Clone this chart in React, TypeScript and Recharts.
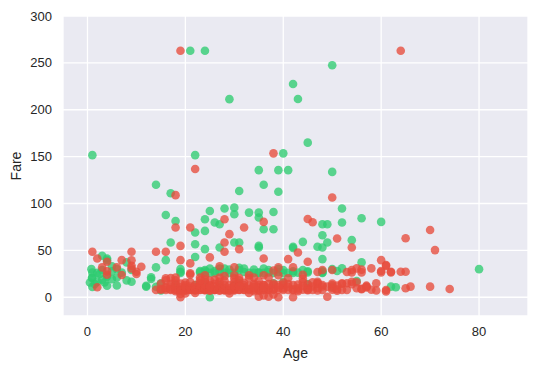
import React from "react";
import { ScatterChart, Scatter, XAxis, YAxis, CartesianGrid, Label } from "recharts";

// [Age, Fare] pairs — passengers who did not survive
const died: [number, number][] = [
  [19, 263], [64, 263], [38, 153.5], [22, 136.8], [18, 108.9], [50, 106.4], [45, 83.5], [46, 80],
  [18, 74.4], [21, 74.4], [28, 83.2], [32, 74.4], [29, 67.3], [36, 80.4], [51, 62.7], [65, 63],
  [70, 71.8], [71, 50.3], [31, 51.3], [28, 58.4], [28, 48.5], [19, 54.8], [25, 42.5], [16, 48.5],
  [14, 48.5], [1, 48.5], [9, 48.5], [43, 47.8], [41, 40.7], [54, 53.1], [45, 37.8], [60, 39.6],
  [61, 34.3], [19, 39.6], [21, 36.1], [36, 41.4], [2, 41.4], [4, 37.8], [7, 39.6], [9, 39.4],
  [9, 30.8], [11, 32.5], [7, 23.7], [10, 27.2], [2, 10.6], [3, 31.9], [4, 27.6], [6, 31.9],
  [9, 33.6], [10, 24.8], [4, 24], [50, 29], [54, 29], [55, 30.8], [56, 29.5], [58, 30.8],
  [60, 28], [62, 27.2], [64, 27.2], [65, 27.2], [53, 27], [47, 27], [56, 26.5],
  [54, 26.5], [43, 9.6], [45, 9.6], [47, 16.6], [47, 9.6], [49, 11.3], [50, 10.2], [52, 14.9],
  [54, 16.6], [55, 9.6], [57, 11.3], [59, 14.9], [61, 7.8], [65, 9.6], [66, 11.3], [70, 11.3],
  [74, 8.8], [49, 0.6], [51, 8.5], [52, 14.2], [48, 13], [46, 7.9], [44, 8.05], [42, 7.55],
  [42, 13], [41, 14.1], [43, 6.45], [45, 13.5], [46, 11.5], [47, 7.25], [48, 7.85], [50, 13],
  [51, 12.5], [58, 8], [61, 6.24], [53, 7.9], [56, 9],
  [14, 7.85], [15, 8.03], [15, 14.45], [16, 7.75], [16, 9.5], [16, 18], [16, 10.5], [17, 7.9],
  [17, 8.66], [17, 14.46], [18, 7.75], [18, 8.3], [18, 11.5], [18, 14.45], [18, 6.5], [19, 7.9],
  [19, 8.05], [19, 0], [19, 10.5], [19, 14.5], [19, 6.75], [20, 7.85], [20, 9.85], [20, 4.0],
  [20, 7.05], [20, 8.05], [20, 9.22], [20, 15.7], [17, 20.5], [18, 18], [16, 20.2], [15, 8.7],
  [18, 21], [20, 13], [17, 11.5], [19, 3.5], [20, 11.2],
  [21, 7.8], [21, 8.05], [21, 11.5], [21, 9.5], [21, 16.1], [21, 24.2], [22, 7.25], [22, 7.8],
  [22, 9], [22, 10.5], [22, 13], [22, 8.05], [23, 7.85], [23, 8.05], [23, 10.5], [23, 13],
  [23, 15], [24, 7.5], [24, 8.05], [24, 7.9], [24, 9.5], [24, 16.1], [24, 23.5], [24, 13],
  [25, 7.05], [25, 7.65], [25, 9.5], [25, 13], [25, 17.8], [26, 7.9], [26, 8.05],
  [26, 14.45], [26, 18.8], [26, 7.78], [27, 7.8], [27, 6.97], [27, 10.5], [27, 13], [27, 21],
  [28, 7.9], [28, 8.05], [28, 7.25], [28, 9.5], [28, 13], [28, 22.5],
  [29, 7.05], [29, 7.9], [29, 9.5], [29, 13], [30, 7.22], [30, 8.05], [30, 8.66],
  [30, 13], [30, 16.1], [30, 23.5], [30, 32], [23, 21],
  [21, 25.6], [24, 19.2], [30, 20.2], [22, 4.5], [26, 11.5], [29, 4],
  [23, 18], [27, 16.5], [25, 11.5], [28, 17.5], [30, 11],
  [31, 7.75], [31, 8.05], [31, 13], [31, 18], [31, 20.5], [32, 7.85], [32, 8.05], [32, 10.5],
  [32, 13], [32, 15.5], [33, 7.9], [33, 8.65], [33, 12.3], [33, 20.5], [34, 6.5],
  [34, 8.05], [34, 13], [34, 14.4], [34, 21], [35, 7.05], [35, 8.05], [35, 10.5],
  [35, 0.5], [35, 13], [35, 17], [36, 7.5], [36, 8.05], [36, 12.9], [36, 13],
  [36, 23.5], [36, 2], [37, 7.75], [37, 7.92], [37, 9.58],
  [37, 0.5], [38, 7.9], [38, 8.66], [38, 13], [38, 14.5], [39, 7.9], [39, 13], [39, 23.5],
  [39, 0], [39, 32], [40, 7.9], [40, 9.5], [40, 13.4],
  [40, 15.5], [33, 23.5], [37, 21.1], [42, 0],
  [41, 7.85], [41, 20.2], [42, 8.4], [43, 8.05], [43, 13.5], [44, 16.1], [44, 20],
  [45, 8.05], [45, 7.5], [47, 15], [47, 14.5], [48, 11.5], [48, 29],
  [50, 8.05], [50, 14.5], [51, 7.05], [52, 7.9], [53, 14.9], [54, 14], [55, 16],
  [56, 8.5], [57, 12.35], [57, 10.5], [59, 7.25], [60, 26.55], [61, 33.5], [62, 26.55],
  [42, 32], [46, 16], [33, 4.5], [36, 10.5], [39, 10.5], [41, 11], [44, 12], [38, 3],
  [31, 11.5], [34, 10.5], [37, 14], [27, 33], [38, 28.5], [44, 24],
];

// [Age, Fare] pairs — passengers who survived
const survived: [number, number][] = [
  [21, 263], [24, 263], [29, 211.3], [1, 151.6], [22, 151.6], [35, 135.6], [14, 120], [36, 120],
  [50, 247.5], [42, 227.5], [43, 211.5], [45, 164.9], [40, 153.5], [39, 135.6], [41, 135.6],
  [50, 133.7], [39, 112.6], [31, 113.3], [17, 110.9], [52, 94.6], [38, 91], [48, 77.9],
  [49, 77.9], [52, 79.7], [56, 84.3], [60, 80.4], [38, 72.6], [36, 72.6], [48, 66.2], [49, 58.4],
  [47, 53.8], [48, 53.1], [54, 60.9], [44, 59.1], [42, 53.8], [42, 52.5], [48, 40.7], [56, 37.2],
  [80, 30], [16, 87.8], [18, 81.4], [30, 95.6], [30, 88.5], [33, 90.3], [35, 90.3], [22, 69],
  [24, 70.8], [24, 83.2], [25, 92], [26, 79.7], [27, 77.9], [28, 94.6], [35, 85], [35, 54.8],
  [35, 53.1], [31, 58.4], [30, 58.4], [27, 53.1], [24, 51.3], [22, 56.6], [22, 43], [17, 58.4],
  [16, 39.6], [14, 31.9], [13, 21.3], [12, 12.3], [15, 14.9], [19, 30], [19, 27.2],
  [0.8, 30], [0.9, 20.6], [0.5, 15.75], [1, 21.1], [1, 11.1], [1.5, 14.2], [2, 16.7], [2, 26],
  [2.5, 24.8], [3, 44.2], [4, 41.4], [3, 18.75], [3.5, 15.9], [4, 12.3], [4, 39.6], [4, 22],
  [5, 19.3], [5, 33], [5, 27.75], [6, 21], [6, 12.5], [7, 26.25], [8, 37.2], [8, 18], [9, 16.6],
  [9, 29], [12, 11.2], [13, 19.5], [14, 11.2], [6, 30], [1, 26.25], [3, 29],
  [15, 7.2], [18, 13], [19, 26],
  [23, 28], [24, 26], [24, 27.7], [24, 29], [24, 15.85], [25, 26], [25, 0], [25, 10],
  [25, 30.5], [26, 26], [26, 28], [27, 30.5], [28, 26], [28, 30.7], [29, 26], [30, 26],
  [31, 15], [31, 29], [32, 30.5], [33, 26], [34, 26], [35, 26], [35, 26.3], [36, 26],
  [36, 30.5], [37, 29], [38, 14.9], [38, 26], [39, 30], [40, 16.6], [40, 26], [41, 26],
  [42, 27.7], [42, 26], [43, 26.3], [44, 29], [45, 27.7], [45, 10], [45, 14], [45, 26.5],
  [48, 27.7], [48, 26.5], [48, 25.9], [50, 11.3], [50, 30], [51, 28], [52, 30.8], [55, 17.3],
  [62, 11.3], [63, 10.6], [31, 31.3], [22, 13], [27, 12.5], [30, 13], [23, 26.5], [27, 27],
  [29, 29.5], [32, 27], [34, 29.5], [37, 26.5], [39, 27], [40, 29],
];

const ageTicks = [0, 20, 40, 60, 80];
const fareTicks = [0, 50, 100, 150, 200, 250, 300];

const diedData = died.map(([age, fare]) => ({ age, fare }));
const survivedData = survived.map(([age, fare]) => ({ age, fare }));

const FONT = "Arial, 'Liberation Sans', sans-serif";
const TEXT = "#262626";

const dot = (color: string) => (props: any) => (
  <circle cx={props.cx} cy={props.cy} r={4.3} fill={color} fillOpacity={0.78} />
);

export default function App() {
  return (
    <div style={{ position: "absolute", left: 0, top: 0, width: 537, height: 370, background: "#fff" }}>
      <ScatterChart width={537} height={370} margin={{ top: 16, right: 9, bottom: 0, left: 0 }}>
        <CartesianGrid fill="#eaeaf2" stroke="#ffffff" strokeWidth={1.3} />
        <XAxis
          type="number"
          dataKey="age"
          domain={[-5, 90]}
          ticks={ageTicks}
          allowDataOverflow
          axisLine={false}
          tickLine={false}
          tickMargin={5}
          height={54}
          tick={{ fill: TEXT, fontSize: 13, fontFamily: FONT }}
        >
          <Label
            content={(p: any) => {
              const vb = p.viewBox;
              return (
                <text x={vb.x + vb.width / 2} y={358} textAnchor="middle" fill={TEXT} fontSize={14} fontFamily={FONT}>
                  Age
                </text>
              );
            }}
          />
        </XAxis>
        <YAxis
          type="number"
          dataKey="fare"
          domain={[-20, 300]}
          ticks={fareTicks}
          allowDataOverflow
          axisLine={false}
          tickLine={false}
          tickMargin={5}
          width={63}
          tick={{ fill: TEXT, fontSize: 13, fontFamily: FONT }}
        >
          <Label
            content={(p: any) => {
              const vb = p.viewBox;
              const cy = vb.y + vb.height / 2;
              return (
                <text x={21} y={cy} transform={`rotate(-90, 21, ${cy})`} textAnchor="middle" fill={TEXT} fontSize={14} fontFamily={FONT}>
                  Fare
                </text>
              );
            }}
          />
        </YAxis>
        <Scatter data={survivedData} shape={dot("#2ecc71")} isAnimationActive={false} />
        <Scatter data={diedData} shape={dot("#e74c3c")} isAnimationActive={false} />
      </ScatterChart>
    </div>
  );
}
